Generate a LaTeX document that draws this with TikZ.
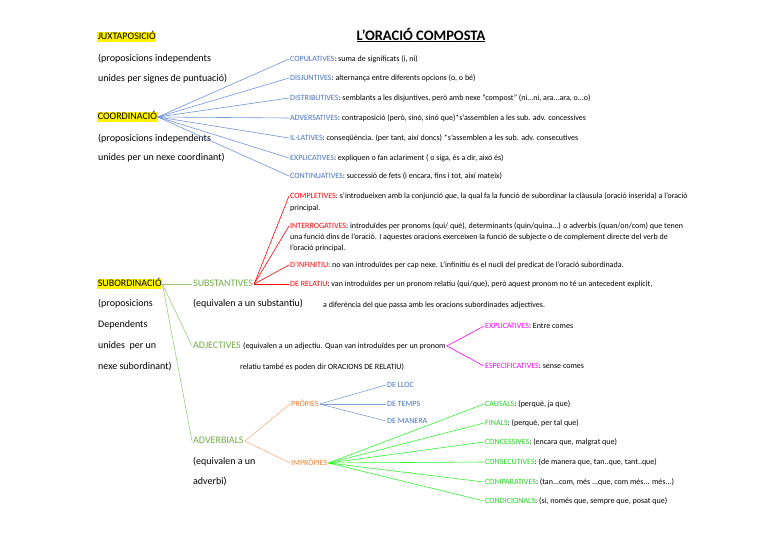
\documentclass[tikz,border=0pt]{standalone}
\usepackage{fontspec}
\setmainfont{Carlito}
\usepackage{tikz}

\definecolor{coordblue}{HTML}{4472C4}
\definecolor{coordline}{HTML}{6F93D8}
\definecolor{subgreen}{HTML}{70AD47}
\definecolor{subline}{HTML}{9CC97C}
\definecolor{relred}{HTML}{FF0000}
\definecolor{adjmag}{HTML}{FF00FF}
\definecolor{advorange}{HTML}{ED7D31}
\definecolor{advline}{HTML}{F4B183}
\definecolor{propline}{HTML}{7F9EDB}
\definecolor{impgreen}{HTML}{1FD51F}
\definecolor{impline}{HTML}{2EF52E}

\begin{document}
\begin{tikzpicture}[x=1pt,y=-1pt]
  \tikzstyle{big}=[anchor=west,inner sep=1pt,font=\fontsize{10}{12}\selectfont,text height=7pt,text depth=2pt]
  \tikzstyle{small}=[anchor=west,inner sep=1pt,font=\fontsize{8}{9.5}\selectfont,text height=6pt,text depth=1.6pt]
  \tikzstyle{hilite}=[big,fill=yellow,inner sep=0.6pt]
  \tikzstyle{branch}=[line width=0.6pt]
  \useasboundingbox (0,0) rectangle (768,543);

  \node[font=\bfseries\fontsize{14.5}{17}\selectfont] (title) at (421,35) {\underline{L’ORACIÓ COMPOSTA}};

  % juxtaposicio i coordinacio
  \node[hilite] (juxt) at (97,37) {JUXTAPOSICIÓ};
  \node[big] (juxt1) at (97,59) {(proposicions independents};
  \node[big] (juxt2) at (97,79) {unides per signes de puntuació)};
  \node[hilite] (coord) at (97,117) {COORDINACIÓ};
  \node[big] (coord1) at (97,139) {(proposicions independents};
  \node[big] (coord2) at (97,158) {unides per un nexe coordinant)};
  \foreach \n/\y/\lab/\txt in {copul/59/COPULATIVES/{suma de significats (i, ni)},
      disj/78/DISJUNTIVES/{alternança entre diferents opcions (o, o bé)},
      distr/98/DISTRIBUTIVES/{semblants a les disjuntives, però amb nexe “compost” (ni...ni, ara...ara, o...o)},
      advers/118/ADVERSATIVES/{contraposició (però, sinó, sinó que)*s’assemblen a les sub. adv. concessives},
      illat/138/IL·LATIVES/{conseqüència. (per tant, així doncs) *s’assemblen a les sub. adv. consecutives},
      expl/158/EXPLICATIVES/{expliquen o fan aclariment ( o siga, és a dir, això és)},
      contin/176/CONTINUATIVES/{successió de fets (i encara, fins i tot, així mateix)}}{
    \node[small] (\n) at (289,\y) {\textcolor{coordblue}{\lab}: \txt};
    \draw[branch,coordline] (coord.east) -- (\n.west);
  }

  % subordinacio
  \node[hilite] (subord) at (97,284) {SUBORDINACIÓ};
  \node[big] (subord1) at (97,304) {(proposicions};
  \node[big] (subord2) at (97,325) {Dependents};
  \node[big] (subord3) at (97,346) {unides\ \ per un};
  \node[big] (subord4) at (97,367) {nexe subordinant)};

  % substantives
  \node[big,subgreen] (subst) at (192,284) {SUBSTANTIVES};
  \node[big] (subst1) at (192,304) {(equivalen a un substantiu)};
  \node[small] (subst2) at (322,305) {a diferència del que passa amb les oracions subordinades adjectives.};
  \node[small] (compl) at (289,196) {\textcolor{relred}{COMPLETIVES}: s’introdueixen amb la conjunció \textit{que}, la qual fa la funció de subordinar la clàusula (oració inserida) a l’oració};
  \node[small] (compl1) at (289,208) {principal.};
  \node[small] (interr) at (289,226) {\textcolor{relred}{INTERROGATIVES}: introduïdes per pronoms (qui/ què), determinants (quin/quina...) o adverbis (quan/on/com) que tenen};
  \node[small] (interr1) at (289,237) {una funció dins de l’oració. I aquestes oracions exerceixen la funció de subjecte o de complement directe del verb de};
  \node[small] (interr2) at (289,248) {l’oració principal.};
  \node[small] (infin) at (289,265) {\textcolor{relred}{D’INFINITIU}: no van introduïdes per cap nexe. L’infinitiu és el nucli del predicat de l’oració subordinada.};
  \node[small] (relat) at (289,284) {\textcolor{relred}{DE RELATIU}: van introduïdes per un pronom relatiu (qui/que), però aquest pronom no té un antecedent explícit,};
  \foreach \n in {compl,interr,infin,relat}
    \draw[branch,relred] (subst.east) -- (\n.west);

  % adjectives
  \node[big] (adj) at (192,346) {\textcolor{subgreen}{ADJECTIVES} {\fontsize{8}{9.5}\selectfont(equivalen a un adjectiu. Quan van introduïdes per un pronom}};
  \node[small] (adj1) at (239,367) {relatiu també es poden dir ORACIONS DE RELATIU)};
  \node[small] (adjexp) at (484,326) {\textcolor{adjmag}{EXPLICATIVES}: Entre comes};
  \node[small] (adjesp) at (484,366) {\textcolor{adjmag}{ESPECIFICATIVES}: sense comes};
  \draw[branch,adjmag] (adjexp.west) -- (adj.east) -- (adjesp.west);

  % adverbials
  \node[big,subgreen] (adverb) at (192,441) {ADVERBIALS};
  \node[big] (adverb1) at (192,462) {(equivalen a un};
  \node[big] (adverb2) at (192,482) {adverbi)};
  \node[small,advorange] (prop) at (290,404) {PRÒPIES};
  \node[small,advorange] (improp) at (290,463) {IMPRÒPIES};
  \draw[branch,advline] (prop.west) -- (adverb.east) -- (improp.west);
  \foreach \n/\y/\lab in {lloc/385/DE LLOC,temps/404/DE TEMPS,manera/421/DE MANERA}{
    \node[small,coordblue] (\n) at (386,\y) {\lab};
    \draw[branch,propline] (prop.east) -- (\n.west);
  }
  \foreach \n/\y/\lab/\txt in {causal/404/CAUSALS/{(perquè, ja que)},
      final/423/FINALS/{(perquè, per tal que)},
      conces/442/CONCESSIVES/{(encara que, malgrat que)},
      consec/462/CONSECUTIVES/{(de manera que, tan..que, tant..que)},
      compar/482/COMPARATIVES/{(tan...com, més ...que, com més... més...)},
      condic/501/CONDICIONALS/{(si, només que, sempre que, posat que)}}{
    \node[small] (\n) at (484,\y) {\textcolor{impgreen}{\lab}: \txt};
    \draw[branch,impline] (improp.east) -- (\n.west);
  }

  \foreach \n in {subst,adj,adverb}
    \draw[branch,subline] (subord.east) -- (\n.west);
\end{tikzpicture}
\end{document}
